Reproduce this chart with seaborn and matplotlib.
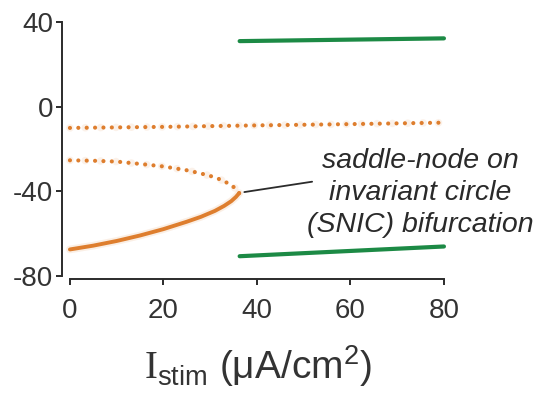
import matplotlib
matplotlib.use("Agg")
import matplotlib.pyplot as plt
import seaborn as sns
import pandas as pd

# Bifurcation diagram branches: stimulus current (uA/cm^2) vs membrane voltage (mV)
stable_I = [0, 5, 10, 15, 20, 25, 28, 31, 33, 34.5, 35.5, 36.2]
stable_V = [-67.4, -65.6, -63.4, -60.8, -57.8, -54.3, -52.0, -49.2, -46.8, -44.6, -42.6, -40.8]

saddle_I = [0, 5, 10, 15, 20, 25, 28, 31, 33, 34.5, 35.5, 36.2]
saddle_V = [-25.3, -25.5, -25.9, -27.0, -28.2, -30.0, -31.5, -33.3, -35.2, -37.0, -38.8, -40.8]

unstable_I = [0, 20, 40, 60, 80]
unstable_V = [-10.0, -9.5, -8.8, -8.2, -7.5]

cycle_I = [36.3, 80]
cycle_max = [31.0, 32.3]
cycle_min = [-70.6, -66.0]

x_ticks = [0, 20, 40, 60, 80]
y_ticks = [-80, -40, 0, 40]

sns.set_theme(style="ticks")
plt.rcParams["font.family"] = ["Liberation Sans", "DejaVu Sans"]
plt.rcParams["mathtext.fontset"] = "custom"
plt.rcParams["mathtext.rm"] = "Liberation Serif"
plt.rcParams["mathtext.sf"] = "Liberation Sans"
plt.rcParams["mathtext.it"] = "Liberation Sans:italic"

ORANGE = "#DE7E2E"
GREEN = "#1C8A45"
INK = "#2b2b2b"

fig = plt.figure(figsize=(5.39, 3.99), dpi=100)
ax = fig.add_axes([0.115, 0.300, 0.726, 0.650])

def branch(I, V):
    return pd.DataFrame({"I": I, "V": V})

dot_style = dict(linestyle=(0, (0.01, 2.0)), dash_capstyle="round")

for I, V in ((unstable_I, unstable_V), (saddle_I, saddle_V)):
    sns.lineplot(data=branch(I, V), x="I", y="V", ax=ax, sort=False,
                 estimator=None, color=ORANGE, lw=5.5, alpha=0.10, **dot_style)
    sns.lineplot(data=branch(I, V), x="I", y="V", ax=ax, sort=False,
                 estimator=None, color=ORANGE, lw=3.0, **dot_style)

sns.lineplot(data=branch(stable_I, stable_V), x="I", y="V", ax=ax, sort=False,
             estimator=None, color=ORANGE, lw=5.5, alpha=0.12, solid_capstyle="round")
sns.lineplot(data=branch(stable_I, stable_V), x="I", y="V", ax=ax, sort=False,
             estimator=None, color=ORANGE, lw=2.8, solid_capstyle="round")
sns.lineplot(data=branch(cycle_I, cycle_max), x="I", y="V", ax=ax, sort=False,
             estimator=None, color=GREEN, lw=3.0)
sns.lineplot(data=branch(cycle_I, cycle_min), x="I", y="V", ax=ax, sort=False,
             estimator=None, color=GREEN, lw=3.0)

# SNIC annotation
ax.annotate("", xy=(37.3, -40.3), xytext=(51.8, -35.4),
            arrowprops=dict(arrowstyle="-", lw=1.3, color=INK, shrinkA=0, shrinkB=0))
ax.text(74.9, -40.6, "saddle-node on\ninvariant circle\n(SNIC) bifurcation",
        ha="center", va="center", fontsize=20.5, style="italic", color="#2a2a2a",
        linespacing=1.3)

ax.set_xlim(-1.7, 82)
ax.set_ylim(-81.5, 41)
ax.set_xticks(x_ticks)
ax.set_yticks(y_ticks)
ax.set_xticklabels([str(t) for t in x_ticks])
ax.set_yticklabels([str(t) for t in y_ticks])
ax.spines["top"].set_visible(False)
ax.spines["right"].set_visible(False)
ax.spines["left"].set_bounds(-80, 40)
ax.spines["bottom"].set_bounds(0, 80)
for s in ("left", "bottom"):
    ax.spines[s].set_linewidth(1.4)
    ax.spines[s].set_color(INK)
ax.tick_params(axis="both", length=4.5, width=1.4, color=INK, labelsize=20,
               labelcolor="#333333")
ax.tick_params(axis="x", pad=9)
ax.tick_params(axis="y", pad=2)

ax.set_xlabel(r"$\mathrm{I}_{\mathsf{stim}}\ \mathsf{(\mu A/cm^2)}$", fontsize=28,
              color="#333333", labelpad=14)
ax.set_ylabel("")

fig.savefig("out.png", dpi=100, facecolor="white")
